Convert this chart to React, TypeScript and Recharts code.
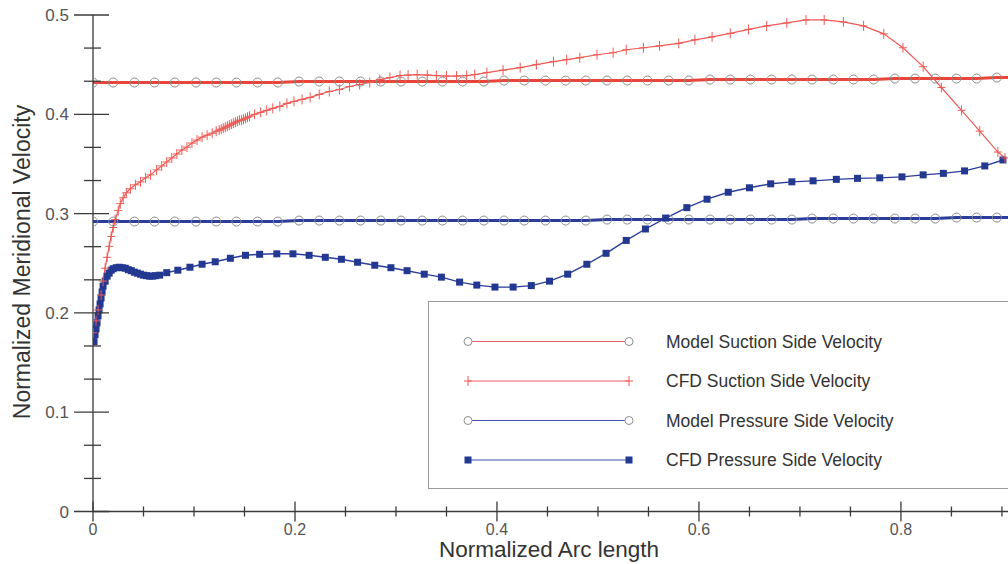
import { Legend, Line, LineChart, XAxis, YAxis } from "recharts";

// model curves: marker positions along the arc
const modelX = [
  0, 0.02, 0.041, 0.061, 0.081, 0.102, 0.122, 0.142, 0.163, 0.183, 0.204, 0.224, 0.244, 0.265, 0.285, 0.305,
  0.326, 0.346, 0.366, 0.387, 0.407, 0.427, 0.448, 0.468, 0.488, 0.509, 0.529, 0.549, 0.57, 0.59, 0.611,
  0.631, 0.651, 0.672, 0.692, 0.712, 0.733, 0.753, 0.773, 0.794, 0.814, 0.834, 0.855, 0.875, 0.895, 0.916,
];
const modelSuction = [
  0.432, 0.432, 0.432, 0.432, 0.432, 0.432, 0.432, 0.432, 0.432, 0.432, 0.433, 0.433, 0.433, 0.433, 0.433,
  0.433, 0.433, 0.433, 0.433, 0.433, 0.434, 0.434, 0.434, 0.434, 0.434, 0.434, 0.434, 0.434, 0.434, 0.434,
  0.435, 0.435, 0.435, 0.435, 0.435, 0.435, 0.435, 0.435, 0.435, 0.436, 0.436, 0.436, 0.436, 0.436, 0.437, 0.437,
];
const modelPressure = [
  0.292, 0.292, 0.292, 0.292, 0.292, 0.292, 0.292, 0.292, 0.292, 0.292, 0.293, 0.293, 0.293, 0.293, 0.293,
  0.293, 0.293, 0.293, 0.293, 0.293, 0.293, 0.293, 0.293, 0.293, 0.293, 0.294, 0.294, 0.294, 0.294, 0.294,
  0.294, 0.294, 0.294, 0.294, 0.294, 0.295, 0.295, 0.295, 0.295, 0.295, 0.295, 0.295, 0.296, 0.296, 0.296, 0.296,
];

// CFD suction side
const cfdSuctionX = [
  0, 0.003, 0.005, 0.008, 0.01, 0.012, 0.014, 0.016, 0.018, 0.02, 0.022, 0.025, 0.027, 0.03, 0.033, 0.037,
  0.042, 0.047, 0.052, 0.057, 0.063, 0.068, 0.073, 0.078, 0.083, 0.088, 0.093, 0.098, 0.103, 0.108, 0.113,
  0.118, 0.122, 0.125, 0.127, 0.129, 0.131, 0.133, 0.135, 0.137, 0.139, 0.141, 0.143, 0.145, 0.147, 0.149,
  0.151, 0.153, 0.155, 0.16, 0.166, 0.172, 0.178, 0.185, 0.192, 0.199, 0.207, 0.215, 0.224, 0.234, 0.244,
  0.254, 0.264, 0.274, 0.284, 0.294, 0.304, 0.312, 0.321, 0.331, 0.34, 0.35, 0.36, 0.37, 0.378, 0.39, 0.406,
  0.423, 0.439, 0.456, 0.469, 0.482, 0.499, 0.515, 0.528, 0.545, 0.561, 0.58, 0.596, 0.613, 0.631, 0.649,
  0.667, 0.687, 0.706, 0.724, 0.743, 0.763, 0.783, 0.802, 0.822, 0.84, 0.86, 0.878, 0.896, 0.903,
];
const cfdSuctionY = [
  0.18, 0.192, 0.203, 0.218, 0.232, 0.245, 0.256, 0.267, 0.277, 0.286, 0.294, 0.303, 0.31, 0.316, 0.321, 0.325,
  0.329, 0.332, 0.336, 0.339, 0.344, 0.348, 0.352, 0.356, 0.36, 0.364, 0.367, 0.371, 0.374, 0.377, 0.379,
  0.381, 0.383, 0.384, 0.385, 0.386, 0.387, 0.388, 0.389, 0.39, 0.391, 0.392, 0.393, 0.394, 0.394, 0.395,
  0.396, 0.397, 0.398, 0.4, 0.402, 0.404, 0.406, 0.408, 0.411, 0.413, 0.415, 0.417, 0.42, 0.423, 0.425,
  0.428, 0.43, 0.432, 0.435, 0.437, 0.439, 0.4395, 0.44, 0.4395, 0.439, 0.4385, 0.4385, 0.439, 0.44, 0.442, 0.4445,
  0.447, 0.45, 0.453, 0.455, 0.457, 0.46, 0.462, 0.465, 0.467, 0.469, 0.4715, 0.475, 0.478, 0.4815, 0.4855,
  0.489, 0.492, 0.495, 0.495, 0.493, 0.489, 0.481, 0.467, 0.448, 0.427, 0.404, 0.383, 0.362, 0.356,
];

// CFD pressure side
const cfdPressureX = [
  0.001, 0.002, 0.003, 0.004, 0.005, 0.006, 0.007, 0.008, 0.009, 0.01, 0.012, 0.014, 0.016, 0.018, 0.02, 0.023,
  0.026, 0.029, 0.032, 0.035, 0.038, 0.041, 0.044, 0.047, 0.05, 0.053, 0.056, 0.059, 0.062, 0.066, 0.073,
  0.084, 0.096, 0.108, 0.121, 0.136, 0.151, 0.165, 0.182, 0.198, 0.214, 0.23, 0.246, 0.262, 0.279, 0.295,
  0.311, 0.328, 0.345, 0.363, 0.38, 0.398, 0.416, 0.434, 0.452, 0.47, 0.489, 0.508, 0.528, 0.547, 0.567,
  0.588, 0.608, 0.629, 0.65, 0.671, 0.692, 0.713, 0.736, 0.757, 0.779, 0.801, 0.822, 0.842, 0.863, 0.883, 0.901,
];
const cfdPressureY = [
  0.171, 0.178, 0.184, 0.19, 0.197, 0.203, 0.209, 0.215, 0.221, 0.227, 0.232, 0.237, 0.24, 0.243, 0.2445, 0.2455,
  0.246, 0.2455, 0.245, 0.2435, 0.2425, 0.241, 0.24, 0.239, 0.238, 0.2375, 0.237, 0.237, 0.2375, 0.238, 0.2405,
  0.243, 0.246, 0.249, 0.2515, 0.255, 0.258, 0.259, 0.2595, 0.2595, 0.258, 0.256, 0.254, 0.251, 0.248, 0.2455,
  0.2425, 0.239, 0.236, 0.231, 0.228, 0.226, 0.226, 0.2275, 0.232, 0.239, 0.249, 0.26, 0.273, 0.2845, 0.2955,
  0.306, 0.3145, 0.3215, 0.326, 0.33, 0.332, 0.333, 0.3345, 0.3355, 0.336, 0.337, 0.339, 0.3405, 0.343, 0.348, 0.354,
];

const xTicks = [0, 0.05, 0.1, 0.15, 0.2, 0.25, 0.3, 0.35, 0.4, 0.45, 0.5, 0.55, 0.6, 0.65, 0.7, 0.75, 0.8, 0.85, 0.9];
const yTicks = [
  0, 0.0333, 0.0667, 0.1, 0.1333, 0.1667, 0.2, 0.2333, 0.2667, 0.3, 0.3333, 0.3667, 0.4, 0.4333, 0.4667, 0.5,
];
const seriesNames = [
  "Model Suction Side Velocity",
  "CFD Suction Side Velocity",
  "Model Pressure Side Velocity",
  "CFD Pressure Side Velocity",
];

const FONT = "'Liberation Sans', Arial, sans-serif";
const AXIS = "#3a3a3a";
const RED = "#e8443a";
const RED_THIN = "#ee5a55";
const BLUE = "#2b3d9c";
const BLUE_SQ = "#233891";
const CIRCLE = "#8c8c8c";

const modelSuctionData = modelX.map((x, i) => ({ x, y: modelSuction[i] }));
const modelPressureData = modelX.map((x, i) => ({ x, y: modelPressure[i] }));
const cfdSuctionData = cfdSuctionX.map((x, i) => ({ x, y: cfdSuctionY[i] }));
const cfdPressureData = cfdPressureX.map((x, i) => ({ x, y: cfdPressureY[i] }));

const CircleDot = (props: any) => {
  const { cx, cy, index } = props;
  if (cx == null || cy == null) return <g key={`c${index}`} />;
  return <circle key={`c${index}`} cx={cx} cy={cy} r={4.5} fill="none" stroke={CIRCLE} strokeWidth={1} />;
};

const PlusDot = (props: any) => {
  const { cx, cy, index } = props;
  if (cx == null || cy == null) return <g key={`p${index}`} />;
  return (
    <path key={`p${index}`} d={`M${cx - 4},${cy}h8M${cx},${cy - 5}v10`} stroke={RED_THIN} strokeWidth={1} fill="none" />
  );
};

const SquareDot = (props: any) => {
  const { cx, cy, index } = props;
  if (cx == null || cy == null) return <g key={`s${index}`} />;
  return <rect key={`s${index}`} x={cx - 3.5} y={cy - 3.5} width={7} height={7} fill={BLUE_SQ} />;
};

const XTick = (props: any) => {
  const { x, y, payload } = props;
  const v = payload.value as number;
  const major = Math.abs(v * 5 - Math.round(v * 5)) < 1e-6;
  const h = major ? 10 : 5;
  return (
    <g>
      <line x1={x} x2={x} y1={y - h} y2={y + h} stroke={AXIS} strokeWidth={1.3} />
      {major && (
        <text x={x} y={y + 23.5} textAnchor="middle" fontSize={16} fill="#555" fontFamily={FONT}>
          {v === 0 ? "0" : v.toFixed(1)}
        </text>
      )}
    </g>
  );
};

const YTick = (props: any) => {
  const { x, y, payload } = props;
  const v = payload.value as number;
  const major = Math.abs(v * 10 - Math.round(v * 10)) < 1e-3;
  return (
    <g>
      <line x1={x - (major ? 19 : 9)} x2={x + (major ? 16 : 8)} y1={y} y2={y} stroke={AXIS} strokeWidth={1.3} />
      {major && (
        <text x={x - 24} y={y + 6} textAnchor="end" fontSize={17} fill="#555" fontFamily={FONT}>
          {v === 0 ? "0" : v.toFixed(1)}
        </text>
      )}
    </g>
  );
};

const YTitle = () => (
  <text x={30} y={262} transform="rotate(-90 30 262)" textAnchor="middle" fontSize={23} fill="#333" fontFamily={FONT}>
    Normalized Meridional Velocity
  </text>
);

const XTitle = () => (
  <text x={549} y={557} textAnchor="middle" fontSize={22.5} fill="#333" fontFamily={FONT}>
    Normalized Arc length
  </text>
);

const LegendBox = () => {
  const rows = [39.5, 79, 118.5, 158];
  return (
    <div style={{ width: 600, height: 188, border: "1px solid #9a9a9a", background: "#fff", boxSizing: "border-box" }}>
      <svg width={600} height={186}>
        {seriesNames.map((name, i) => {
          const cy = rows[i];
          const color = i < 2 ? "#e8606a" : "#3d50b0";
          return (
            <g key={name}>
              <line x1={39} x2={200} y1={cy} y2={cy} stroke={color} strokeWidth={1.2} />
              {(i === 0 || i === 2) &&
                [39, 200].map((cx) => (
                  <circle key={cx} cx={cx} cy={cy} r={4} fill="#fff" stroke={CIRCLE} strokeWidth={1} />
                ))}
              {i === 1 &&
                [39, 200].map((cx) => (
                  <path key={cx} d={`M${cx - 4},${cy}h8M${cx},${cy - 5}v10`} stroke={RED_THIN} strokeWidth={1} />
                ))}
              {i === 3 &&
                [39, 200].map((cx) => (
                  <rect key={cx} x={cx - 3.5} y={cy - 3.5} width={7} height={7} fill={BLUE_SQ} />
                ))}
              <text x={237} y={cy + 6} fontSize={17.5} fill="#333" fontFamily={FONT}>
                {name}
              </text>
            </g>
          );
        })}
      </svg>
    </div>
  );
};

export default function App() {
  return (
    <div
      style={{
        position: "absolute",
        left: 0,
        top: 0,
        width: 1008,
        height: 564,
        overflow: "hidden",
        background: "#fff",
        fontFamily: FONT,
      }}
    >
      <LineChart width={1008} height={564} margin={{ top: 15, right: 0, bottom: 0, left: 0 }}>
        <XAxis
          dataKey="x"
          type="number"
          domain={[0, 0.906]}
          allowDataOverflow
          ticks={xTicks}
          interval={0}
          tickSize={0}
          tickMargin={0}
          tickLine={false}
          tick={<XTick />}
          height={52.5}
          axisLine={{ stroke: AXIS, strokeWidth: 1.3 }}
          label={<XTitle />}
        />
        <YAxis
          type="number"
          domain={[0, 0.5]}
          allowDataOverflow
          ticks={yTicks}
          interval={0}
          tickSize={0}
          tickMargin={0}
          tickLine={false}
          tick={<YTick />}
          width={93}
          axisLine={{ stroke: AXIS, strokeWidth: 1.3 }}
          label={<YTitle />}
        />
        <Legend
          layout="vertical"
          align="center"
          verticalAlign="middle"
          content={<LegendBox />}
          wrapperStyle={{ left: 428, top: 301, right: "auto", bottom: "auto", width: 600, height: 188 }}
        />
        <Line
          data={modelPressureData}
          dataKey="y"
          name={seriesNames[2]}
          stroke={BLUE}
          strokeWidth={3}
          dot={CircleDot}
          isAnimationActive={false}
        />
        <Line
          data={cfdPressureData}
          dataKey="y"
          name={seriesNames[3]}
          stroke={BLUE}
          strokeWidth={1.4}
          dot={SquareDot}
          isAnimationActive={false}
        />
        <Line
          data={modelSuctionData}
          dataKey="y"
          name={seriesNames[0]}
          stroke={RED}
          strokeWidth={3}
          dot={CircleDot}
          isAnimationActive={false}
        />
        <Line
          data={cfdSuctionData}
          dataKey="y"
          name={seriesNames[1]}
          stroke={RED_THIN}
          strokeWidth={1.2}
          dot={PlusDot}
          isAnimationActive={false}
        />
      </LineChart>
    </div>
  );
}
